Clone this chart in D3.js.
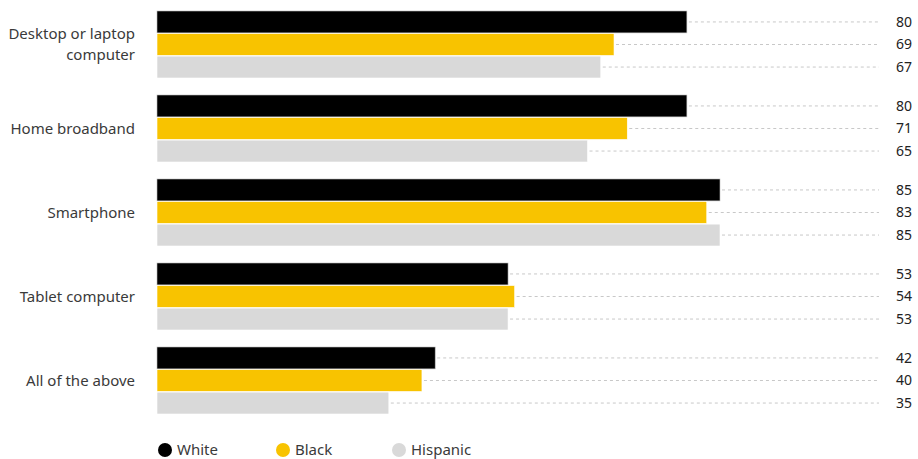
<!DOCTYPE html>
<html>
<head>
<meta charset="utf-8">
<script src="https://cdn.jsdelivr.net/npm/d3@7"></script>
<style>
  html, body { margin: 0; padding: 0; background: #fff; }
  svg { display: block; font-family: "Noto Sans", "Open Sans", sans-serif; }
</style>
</head>
<body>
<svg id="chart" width="918" height="459"></svg>
<script>
// Device ownership / access, percent by group
const categories = ["Desktop or laptop computer", "Home broadband", "Smartphone", "Tablet computer", "All of the above"];
const categoryLines = [["Desktop or laptop", "computer"], ["Home broadband"], ["Smartphone"], ["Tablet computer"], ["All of the above"]];
const seriesNames = ["White", "Black", "Hispanic"];
const whiteValues = [80, 80, 85, 53, 42];
const blackValues = [69, 71, 83, 54, 40];
const hispanicValues = [67, 65, 85, 53, 35];
const seriesColors = ["#000000", "#f8c300", "#d9d9d9"];

const seriesValues = [whiteValues, blackValues, hispanicValues];

const svg = d3.select("#chart");
const left = 157, guideEnd = 879, labelX = 912;

const x = d3.scaleLinear().domain([0, 85]).range([left, 720]);

const y0 = d3.scaleBand().domain(categories).range([11, 414]).paddingInner(17 / 84);
const y1 = d3.scaleBand().domain(seriesNames).range([0, y0.bandwidth()]).paddingInner(0.03);

const groups = svg.selectAll("g.cat")
  .data(categories)
  .join("g")
  .attr("class", "cat")
  .attr("transform", d => `translate(0,${y0(d)})`);

groups.each(function(cat, ci) {
  const g = d3.select(this);
  seriesNames.forEach((s, si) => {
    const v = seriesValues[si][ci];
    const yy = y1(s);
    const h = y1.bandwidth();
    // dashed guide from bar end to the value label
    g.append("line")
      .attr("x1", x(v) + 2).attr("x2", guideEnd)
      .attr("y1", yy + h / 2).attr("y2", yy + h / 2)
      .attr("stroke", "#c8c8c8").attr("stroke-width", 1)
      .attr("stroke-dasharray", "3,3");
    g.append("rect")
      .attr("x", x(0)).attr("y", yy)
      .attr("width", x(v) - x(0)).attr("height", h)
      .attr("fill", seriesColors[si])
      .attr("stroke", si === 0 ? "#bbb" : "#fff")
      .attr("stroke-width", 0.6);
    g.append("text")
      .attr("x", labelX).attr("y", yy + h / 2)
      .attr("dy", "0.35em")
      .attr("text-anchor", "end")
      .attr("font-size", 14)
      .attr("fill", "#222")
      .text(v);
  });
  const lines = categoryLines[ci];
  const mid = y0.bandwidth() / 2;
  const lh = 21;
  g.append("text")
    .attr("x", 135)
    .attr("text-anchor", "end")
    .attr("font-size", 15)
    .attr("fill", "#3a3a3a")
    .selectAll("tspan")
    .data(lines)
    .join("tspan")
    .attr("x", 135)
    .attr("y", (d, i) => mid + (i - (lines.length - 1) / 2) * lh)
    .attr("dy", "0.35em")
    .text(d => d);
});

// Legend
const legendX = [165, 283, 399];
const legend = svg.selectAll("g.legend")
  .data(seriesNames)
  .join("g")
  .attr("class", "legend")
  .attr("transform", (d, i) => `translate(${legendX[i]},450)`);
legend.append("circle").attr("r", 7).attr("fill", (d, i) => seriesColors[i]);
legend.append("text")
  .attr("x", 12).attr("dy", "0.35em")
  .attr("font-size", 15).attr("fill", "#3a3a3a")
  .text(d => d);
</script>
</body>
</html>
